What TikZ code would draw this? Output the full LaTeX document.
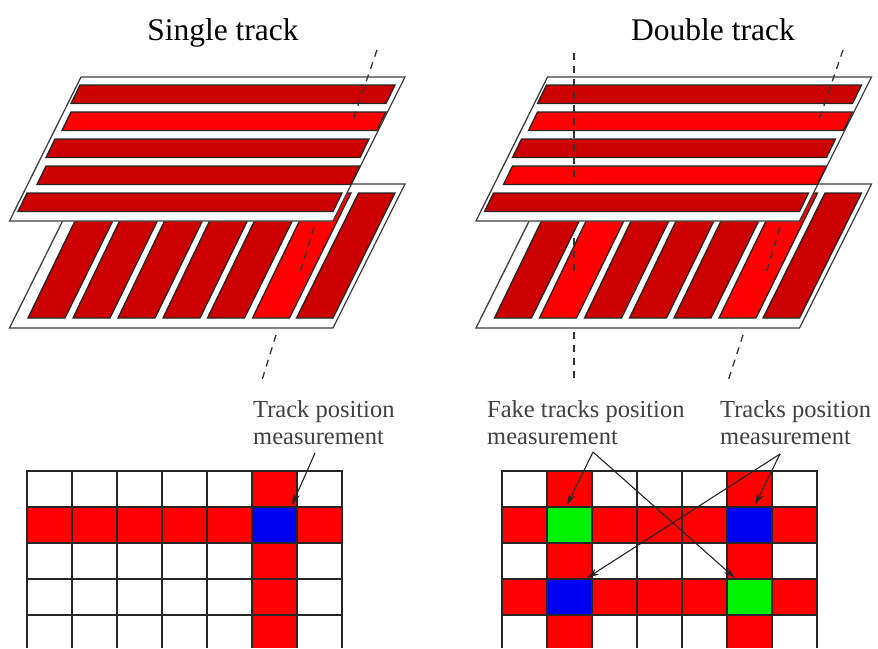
\documentclass[tikz,border=0pt]{standalone}
\usepackage{fontspec}
\setmainfont{Liberation Serif}
\usetikzlibrary{arrows.meta,positioning}
\definecolor{darkstrip}{RGB}{204,0,0}
\definecolor{brightstrip}{RGB}{255,0,0}
\definecolor{bluecell}{RGB}{0,0,240}
\definecolor{greencell}{RGB}{0,240,0}
\begin{document}
\begin{tikzpicture}[x=1pt,y=-1pt,plate/.style={draw=black!75,fill=white,line width=1.3pt},
dk/.style={draw=black!85,fill=darkstrip,line width=1.3pt},
br/.style={draw=black!85,fill=brightstrip,line width=1.3pt},
track/.style={line width=1.3pt,dash pattern=on 7pt off 6pt,draw=black!80},
ref/.style={-{Stealth[length=12pt,width=7pt]},line width=1.1pt,draw=black!85},
gridln/.style={line width=1.2pt,draw=black!85},
title/.style={font=\fontsize{31.5}{34}\selectfont,anchor=base,inner sep=0pt},
note/.style={font=\fontsize{24.5}{27}\selectfont,align=left,anchor=north west,inner sep=0pt,text=black!75}]
\useasboundingbox (0,0) rectangle (878,648);
\fill[white] (0,0) rectangle (878,648);
\node[title] (ttl) at (223,40) {Single track};
\node[title] (ttr) at (713,40) {Double track};
% single track, lower plane
\draw[plate] (81,184) -- (405,184) -- (333,328) -- (9.5,328) -- cycle;
\draw[dk] (88.5,193) -- (126.5,193) -- (65,318) -- (28,318) -- cycle;
\draw[dk] (133,193) -- (171,193) -- (110,318) -- (73,318) -- cycle;
\draw[dk] (178,193) -- (216,193) -- (155,318) -- (118,318) -- cycle;
\draw[dk] (223,193) -- (261,193) -- (200,318) -- (163,318) -- cycle;
\draw[dk] (268,193) -- (306,193) -- (244.5,318) -- (207.5,318) -- cycle;
\draw[br] (313,193) -- (351,193) -- (289.5,318) -- (252.5,318) -- cycle;
\draw[dk] (358.5,193) -- (395,193) -- (333,318) -- (296.5,318) -- cycle;
\draw[track] (314,227) -- (300,273); \draw[track] (276,335) -- (262,380);
% single track, upper plane
\draw[plate] (81,77) -- (405,77) -- (333,221) -- (9.5,221) -- cycle;
\draw[dk] (80,85) -- (395,85) -- (386,103.5) -- (71,103.5) -- cycle;
\draw[br] (71,112) -- (386,112) -- (377,130.5) -- (62,130.5) -- cycle;
\draw[dk] (55,139) -- (369,139) -- (360,157.5) -- (46,157.5) -- cycle;
\draw[dk] (46,166) -- (360,166) -- (351,184.5) -- (37,184.5) -- cycle;
\draw[dk] (27,193) -- (342,193) -- (333,211.5) -- (18,211.5) -- cycle;
\draw[track] (377,50) -- (353,120);
% double track, lower plane
\draw[plate] (547.5,184) -- (871.5,184) -- (799.5,328) -- (476,328) -- cycle;
\draw[dk] (555,193) -- (593,193) -- (531.5,318) -- (494.5,318) -- cycle;
\draw[br] (599.5,193) -- (637.5,193) -- (576.5,318) -- (539.5,318) -- cycle;
\draw[dk] (644.5,193) -- (682.5,193) -- (621.5,318) -- (584.5,318) -- cycle;
\draw[dk] (689.5,193) -- (727.5,193) -- (666.5,318) -- (629.5,318) -- cycle;
\draw[dk] (734.5,193) -- (772.5,193) -- (711,318) -- (674,318) -- cycle;
\draw[br] (779.5,193) -- (817.5,193) -- (756,318) -- (719,318) -- cycle;
\draw[dk] (825,193) -- (861.5,193) -- (799.5,318) -- (763,318) -- cycle;
\draw[track] (574,238) -- (574,273); \draw[track] (574,332) -- (574,382);
\draw[track] (780,227) -- (766,273); \draw[track] (743,335) -- (728,381);
% double track, upper plane
\draw[plate] (547.5,77) -- (871.5,77) -- (799.5,221) -- (476,221) -- cycle;
\draw[dk] (546.5,85) -- (861.5,85) -- (852.5,103.5) -- (537.5,103.5) -- cycle;
\draw[br] (537.5,112) -- (852.5,112) -- (843.5,130.5) -- (528.5,130.5) -- cycle;
\draw[dk] (521.5,139) -- (835.5,139) -- (826.5,157.5) -- (512.5,157.5) -- cycle;
\draw[br] (512.5,166) -- (826.5,166) -- (817.5,184.5) -- (503.5,184.5) -- cycle;
\draw[dk] (493.5,193) -- (808.5,193) -- (799.5,211.5) -- (484.5,211.5) -- cycle;
\draw[track] (574,53) -- (574,177); \draw[track] (843,50) -- (819,120);
% single track, readout grid
\fill[brightstrip] (27,507) rectangle (342,543); \fill[brightstrip] (252,471) rectangle (297,648);
\fill[bluecell] (252,507) rectangle (297,543);
\draw[gridln] (27,648) -- (27,471) -- (342,471) -- (342,648);
\draw[gridln] (27,507) -- (342,507) (27,543) -- (342,543) (27,579) -- (342,579) (27,615) -- (342,615);
\draw[gridln] (72,471) -- (72,648) (117,471) -- (117,648) (162,471) -- (162,648) (207,471) -- (207,648) (252,471) -- (252,648) (297,471) -- (297,648);
% double track, readout grid
\fill[brightstrip] (502,507) rectangle (817,543); \fill[brightstrip] (502,579) rectangle (817,615);
\fill[brightstrip] (547,471) rectangle (592,648); \fill[brightstrip] (727,471) rectangle (772,648);
\fill[greencell] (547,507) rectangle (592,543); \fill[bluecell] (727,507) rectangle (772,543);
\fill[bluecell] (547,579) rectangle (592,615); \fill[greencell] (727,579) rectangle (772,615);
\draw[gridln] (502,648) -- (502,471) -- (817,471) -- (817,648);
\draw[gridln] (502,507) -- (817,507) (502,543) -- (817,543) (502,579) -- (817,579) (502,615) -- (817,615);
\draw[gridln] (547,471) -- (547,648) (592,471) -- (592,648) (637,471) -- (637,648) (682,471) -- (682,648) (727,471) -- (727,648) (772,471) -- (772,648);
% labels and arrows
\node[note] (lbs) at (253,400) {Track position\\measurement};
\node[note] (lbf) at (487,400) {Fake tracks position\\measurement};
\node[note] (lbt) at (720,400) {Tracks position\\measurement};
\coordinate (as) at (315,453); \coordinate (af) at (593,452); \coordinate (at) at (780,454);
\coordinate (c1) at (292,505); \coordinate (c2) at (567,505); \coordinate (c3) at (735,578);
\coordinate (c4) at (755,505); \coordinate (c5) at (587,578);
\draw[ref] (as) -- (c1);
\draw[ref] (af) -- (c2); \draw[ref] (af) -- (c3);
\draw[ref] (at) -- (c4); \draw[ref] (at) -- (c5);
\end{tikzpicture}
\end{document}
